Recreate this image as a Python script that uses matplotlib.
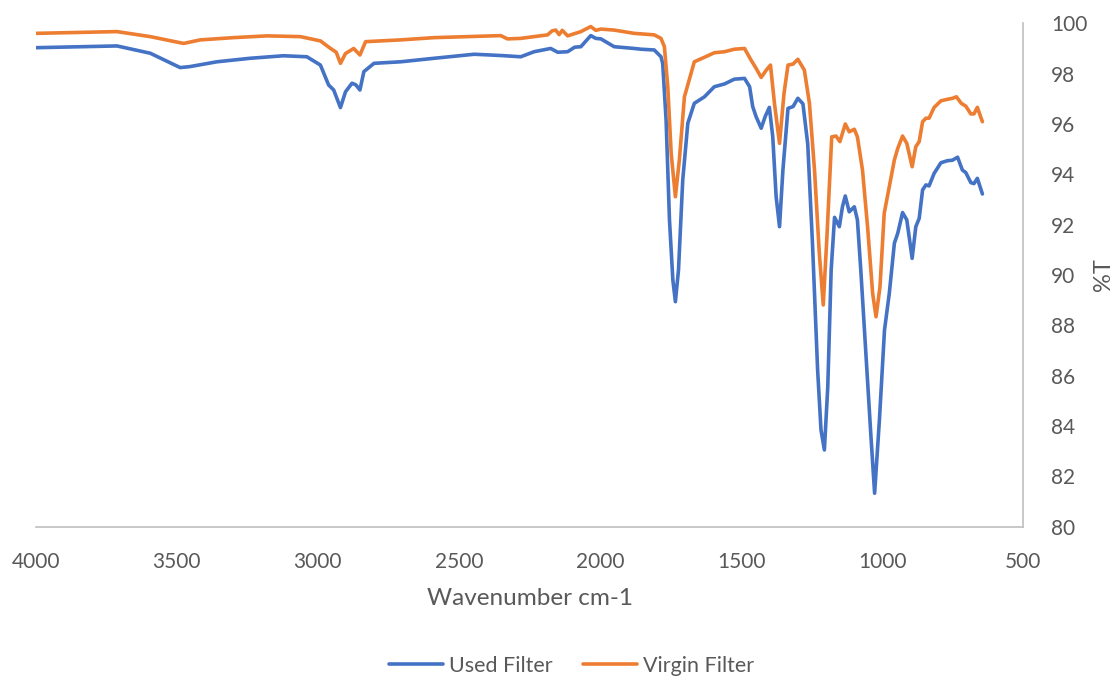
import matplotlib
matplotlib.use("Agg")
import matplotlib.pyplot as plt

USED_COLOUR = '#4472c4'
VIRGIN_COLOUR = '#ed7d31'
TEXT_COLOUR = '#595959'
AXIS_COLOUR = '#bfbfbf'
FONT = ['Lato', 'DejaVu Sans']

# FTIR spectra, wavenumber (cm-1) against %T
used_wavenumber = [4000, 3712, 3594, 3488, 3453, 3358, 3240, 3122, 3039, 2991,
                   2962, 2944, 2920, 2902, 2879, 2865, 2851, 2837, 2801, 2707,
                   2588, 2446, 2352, 2281, 2234, 2175, 2150, 2115, 2090, 2068,
                   2033, 2015, 1997, 1950, 1879, 1855, 1808, 1784, 1778, 1766,
                   1754, 1742, 1733, 1722, 1707, 1689, 1666, 1630, 1595, 1559,
                   1524, 1488, 1470, 1459, 1447, 1429, 1415, 1400, 1388, 1376,
                   1364, 1352, 1334, 1316, 1299, 1281, 1264, 1247, 1229, 1217,
                   1205, 1193, 1181, 1169, 1152, 1141, 1131, 1117, 1099, 1088,
                   1076, 1058, 1040, 1027, 1010, 992, 975, 957, 945, 928,
                   913, 894, 881, 869, 857, 845, 834, 816, 792, 769,
                   751, 733, 716, 704, 686, 675, 663, 645]
used_transmittance = [99.03, 99.10, 98.81, 98.24, 98.28, 98.47, 98.61, 98.71, 98.67, 98.34,
                      97.55, 97.35, 96.65, 97.28, 97.62, 97.55, 97.35, 98.08, 98.41, 98.47,
                      98.61, 98.77, 98.72, 98.67, 98.87, 99.00, 98.85, 98.87, 99.05, 99.07,
                      99.51, 99.40, 99.38, 99.07, 99.00, 98.97, 98.94, 98.67, 98.40, 96.16,
                      92.19, 89.80, 88.94, 90.20, 93.77, 96.03, 96.82, 97.08, 97.48, 97.59,
                      97.78, 97.81, 97.48, 96.69, 96.29, 95.83, 96.29, 96.66, 95.49, 93.11,
                      91.92, 94.17, 96.62, 96.69, 97.02, 96.80, 95.20, 91.20, 86.23, 83.84,
                      83.05, 85.56, 90.20, 92.29, 91.92, 92.71, 93.14, 92.51, 92.71, 92.19,
                      90.20, 86.89, 83.58, 81.33, 84.24, 87.81, 89.27, 91.26, 91.66, 92.48,
                      92.19, 90.66, 91.92, 92.25, 93.38, 93.58, 93.54, 94.04, 94.46, 94.54,
                      94.56, 94.68, 94.17, 94.07, 93.67, 93.63, 93.84, 93.22]

virgin_wavenumber = [4000, 3712, 3594, 3476, 3417, 3299, 3180, 3062, 2991, 2955,
                     2935, 2920, 2902, 2873, 2851, 2831, 2707, 2588, 2470, 2352,
                     2328, 2281, 2234, 2186, 2170, 2157, 2145, 2134, 2115, 2068,
                     2033, 2015, 1997, 1950, 1879, 1808, 1784, 1772, 1760, 1748,
                     1733, 1719, 1701, 1666, 1630, 1595, 1559, 1524, 1488, 1465,
                     1447, 1429, 1411, 1396, 1382, 1364, 1348, 1334, 1316, 1299,
                     1276, 1258, 1240, 1223, 1209, 1196, 1179, 1164, 1150, 1131,
                     1117, 1099, 1088, 1070, 1052, 1034, 1022, 1008, 993, 975,
                     957, 945, 928, 913, 894, 881, 869, 857, 845, 834,
                     816, 792, 769, 751, 737, 720, 704, 686, 675, 663,
                     645]
virgin_transmittance = [99.60, 99.67, 99.47, 99.20, 99.34, 99.43, 99.50, 99.47, 99.30, 99.00,
                        98.85, 98.41, 98.80, 99.00, 98.74, 99.27, 99.34, 99.43, 99.47, 99.51,
                        99.38, 99.40, 99.47, 99.54, 99.70, 99.73, 99.55, 99.72, 99.50, 99.67,
                        99.87, 99.72, 99.77, 99.73, 99.60, 99.54, 99.40, 99.07, 97.48, 94.84,
                        93.11, 94.57, 97.08, 98.47, 98.65, 98.83, 98.87, 98.97, 99.00, 98.54,
                        98.21, 97.85, 98.14, 98.34, 96.82, 95.23, 97.22, 98.34, 98.38, 98.57,
                        98.14, 96.82, 94.17, 90.86, 88.81, 91.52, 95.49, 95.52, 95.30, 96.00,
                        95.69, 95.79, 95.49, 94.17, 91.92, 89.27, 88.34, 89.53, 92.45, 93.51,
                        94.57, 95.03, 95.52, 95.23, 94.30, 95.10, 95.30, 96.09, 96.23, 96.23,
                        96.66, 96.92, 96.98, 97.02, 97.08, 96.82, 96.71, 96.40, 96.40, 96.66,
                        96.09]

x_ticks = [4000, 3500, 3000, 2500, 2000, 1500, 1000, 500]
y_ticks = [80, 82, 84, 86, 88, 90, 92, 94, 96, 98, 100]

plt.rcParams['font.family'] = FONT

fig = plt.figure(figsize=(11.19, 6.79), dpi=100)
ax = fig.add_axes([0.0319, 0.2243, 0.9145 - 0.0319, 0.9657 - 0.2243])

ax.plot(used_wavenumber, used_transmittance, color=USED_COLOUR, lw=2.6,
        solid_joinstyle='round', solid_capstyle='round', label='Used Filter')
ax.plot(virgin_wavenumber, virgin_transmittance, color=VIRGIN_COLOUR, lw=2.6,
        solid_joinstyle='round', solid_capstyle='round', label='Virgin Filter')

ax.set_xlim(4000, 500)
ax.set_ylim(80, 100)
ax.set_xticks(x_ticks)
ax.set_yticks(y_ticks)
ax.yaxis.tick_right()
ax.yaxis.set_label_position('right')

for side in ['top', 'left']:
    ax.spines[side].set_visible(False)
for side in ['bottom', 'right']:
    ax.spines[side].set_color(AXIS_COLOUR)
    ax.spines[side].set_linewidth(1.2)

ax.tick_params(axis='both', length=0, labelsize=15, labelcolor=TEXT_COLOUR)
ax.tick_params(axis='x', pad=18)
ax.tick_params(axis='y', pad=20)

ax.set_xlabel('Wavenumber cm-1', fontsize=17.5, color=TEXT_COLOUR, labelpad=12)
ax.set_ylabel('%T', fontsize=17, color=TEXT_COLOUR, labelpad=4)

fig.legend(loc='center', bbox_to_anchor=(0.511, 1 - 666 / 679), ncol=2,
           frameon=False, fontsize=15.5, labelcolor=TEXT_COLOUR,
           handlelength=2.5, handletextpad=0.3, columnspacing=1.4)

fig.savefig('out.png', dpi=100)
